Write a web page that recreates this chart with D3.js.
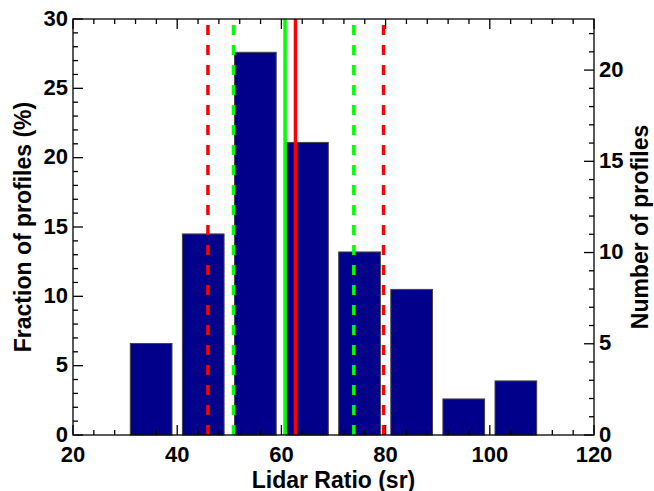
<!DOCTYPE html>
<html>
<head>
<meta charset="utf-8">
<script src="https://cdn.jsdelivr.net/npm/d3@7"></script>
<style>
  body { margin: 0; background: #fff; }
  text { font-family: "Liberation Sans", Arial, sans-serif; font-weight: bold; fill: #000; }
</style>
</head>
<body>
<svg width="654" height="491"></svg>
<script>
// lidar ratio bins (centre, sr) and fraction of profiles (%)
const binCenters = [35, 45, 55, 65, 75, 85, 95, 105];
const fractions = [6.6, 14.5, 27.6, 21.1, 13.2, 10.5, 2.6, 3.9];

// vertical marker lines
const markers = [
  { x: 45.9, color: "#ff0000", dashed: true },
  { x: 79.6, color: "#ff0000", dashed: true },
  { x: 62.7, color: "#ff0000", dashed: false },
  { x: 50.8, color: "#00ff00", dashed: true },
  { x: 73.9, color: "#00ff00", dashed: true },
  { x: 60.7, color: "#00ff00", dashed: false }
];

const xTicks = [20, 40, 60, 80, 100, 120];
const yTicks = [0, 5, 10, 15, 20, 25, 30];
const countTicks = [0, 5, 10, 15, 20];
const countMax = 22.8; // 30 % of 76 profiles

const svg = d3.select("svg");
const pL = 73, pR = 594, pT = 19, pB = 435;

const x = d3.scaleLinear().domain([20, 120]).range([pL, pR]);
const y = d3.scaleLinear().domain([0, 30]).range([pB, pT]);
const y2 = d3.scaleLinear().domain([0, countMax]).range([pB, pT]);

const halfW = 4;

/* bars */
svg.append("g").selectAll("rect")
  .data(binCenters)
  .enter().append("rect")
  .attr("x", d => x(d - halfW))
  .attr("width", d => x(d + halfW) - x(d - halfW))
  .attr("y", (d, i) => y(fractions[i]))
  .attr("height", (d, i) => pB - y(fractions[i]))
  .attr("fill", "#00008a")
  .attr("stroke", "#444")
  .attr("stroke-width", 1);

/* marker lines */
svg.append("g").selectAll("line")
  .data(markers)
  .enter().append("line")
  .attr("x1", d => x(d.x))
  .attr("x2", d => x(d.x))
  .attr("y1", pB)
  .attr("y2", pT)
  .attr("stroke", d => d.color)
  .attr("stroke-width", 3.5)
  .attr("stroke-dasharray", d => d.dashed ? "10,10" : null);

/* axes: ticks drawn inward */
const minorX = d3.range(20, 121, 4);
const minorY = d3.range(0, 31, 1);
const minorC = d3.range(0, countMax, 1);

const axes = svg.append("g").attr("stroke", "#000").attr("stroke-width", 1.3);

// bottom + top
[pB, pT].forEach(yy => {
  const dir = yy === pB ? -1 : 1;
  axes.selectAll(null).data(minorX).enter().append("line")
    .attr("x1", d => x(d)).attr("x2", d => x(d))
    .attr("y1", yy).attr("y2", d => yy + dir * (d % 20 === 0 ? 10 : 5));
});

// left
axes.selectAll(null).data(minorY).enter().append("line")
  .attr("x1", pL).attr("x2", d => pL + (d % 5 === 0 ? 10 : 5))
  .attr("y1", d => y(d)).attr("y2", d => y(d));

// right (counts)
axes.selectAll(null).data(minorC).enter().append("line")
  .attr("x1", pR).attr("x2", d => pR - (d % 5 === 0 ? 10 : 5))
  .attr("y1", d => y2(d)).attr("y2", d => y2(d));

axes.append("rect")
  .attr("x", pL).attr("y", pT)
  .attr("width", pR - pL).attr("height", pB - pT)
  .attr("fill", "none");

/* tick labels */
svg.append("g").selectAll("text")
  .data(xTicks)
  .enter().append("text")
  .attr("x", d => x(d))
  .attr("y", 462)
  .attr("text-anchor", "middle")
  .style("font-size", "22px")
  .text(d => d);

svg.append("g").selectAll("text")
  .data(yTicks)
  .enter().append("text")
  .attr("x", 68)
  .attr("y", d => y(d) + 6.5)
  .attr("text-anchor", "end")
  .style("font-size", "22px")
  .text(d => d);

svg.append("g").selectAll("text")
  .data(countTicks)
  .enter().append("text")
  .attr("x", 599)
  .attr("y", d => y2(d) + 6.5)
  .attr("text-anchor", "start")
  .style("font-size", "22px")
  .text(d => d);

/* axis titles */
svg.append("text")
  .attr("x", (pL + pR) / 2)
  .attr("y", 487.5)
  .attr("text-anchor", "middle")
  .style("font-size", "23px")
  .text("Lidar Ratio (sr)");

svg.append("text")
  .attr("transform", `translate(31,${(pT + pB) / 2}) rotate(-90)`)
  .attr("text-anchor", "middle")
  .style("font-size", "23px")
  .text("Fraction of profiles (%)");

svg.append("text")
  .attr("transform", `translate(648,${(pT + pB) / 2}) rotate(-90)`)
  .attr("text-anchor", "middle")
  .style("font-size", "23px")
  .text("Number of profiles");
</script>
</body>
</html>
